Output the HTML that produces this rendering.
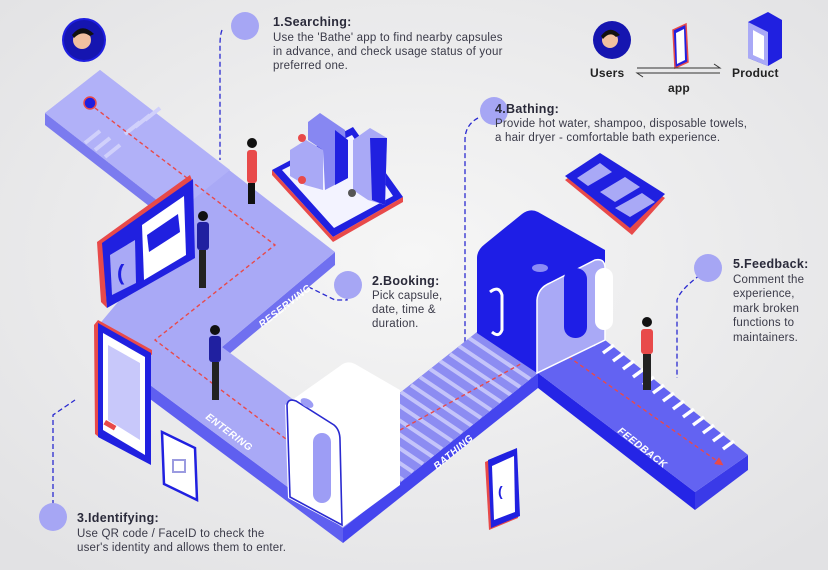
<!DOCTYPE html>
<html><head><meta charset="utf-8"><style>
html,body{margin:0;padding:0;}
body{width:828px;height:570px;overflow:hidden;background:#efefef;font-family:"Liberation Sans",sans-serif;}
svg{display:block}
text{font-family:"Liberation Sans",sans-serif;fill:#2a2a3a}
.h{font-size:12.5px;font-weight:bold;letter-spacing:.3px}
.b{font-size:11.5px;fill:#3a3a48;letter-spacing:.2px}
.lab{font-size:10px;font-weight:bold;fill:#fff;letter-spacing:.5px;font-style:italic}
</style></head><body>
<svg width="828" height="570" viewBox="0 0 828 570" xmlns="http://www.w3.org/2000/svg">
<defs>
<radialGradient id="bg" cx="50%" cy="45%" r="70%"><stop offset="0" stop-color="#f6f6f6"/><stop offset="1" stop-color="#e2e2e4"/></radialGradient>
<marker id="ar" markerWidth="6" markerHeight="6" refX="3" refY="3" orient="auto"><path d="M0,0L6,3L0,6z" fill="#e84a4a"/></marker>
<clipPath id="bc"><polygon points="344,437 477,332 538,373 343,528"/></clipPath>
</defs>
<rect width="828" height="570" fill="url(#bg)"/>

<!-- dashed leader lines -->
<g fill="none" stroke="#2a2ad0" stroke-width="1.3" stroke-dasharray="5,3">
<path d="M222,30 Q220,35 220,45 L220,160"/>
<path d="M258,262 L335,300 L347,300 L347,292"/>
<path d="M478,118 Q465,125 465,140 L465,345"/>
<path d="M700,275 Q680,290 677,300 L677,378"/>
<path d="M53,505 L53,415 L75,400"/>
</g>

<!-- side faces -->
<polygon points="45,113 185,222 185,234 45,125" fill="#7b7bef"/>
<polygon points="222,347 335,252 335,265 222,360" fill="#7070f0"/>
<polygon points="150,385 343,528 343,543 150,399" fill="#5f5ff0"/>
<polygon points="343,528 538,373 538,388 343,543" fill="#4545ee"/>
<polygon points="538,373 695,492 695,510 538,388" fill="#2525e6"/>
<polygon points="695,492 748,455 748,470 695,510" fill="#3a3ae8"/>

<!-- top face -->
<polygon points="45,113 100,70 335,252 222,347 344,437 477,332 530,300 590,328 748,455 695,492 538,373 343,528 150,385 97,327 185,222" fill="#a9a9f6"/>
<polygon points="45,113 100,70 230,170 175,214" fill="#b1b1f8"/>
<!-- bathing stripes -->
<polygon points="344,437 477,332 538,373 343,528" fill="#8c8cf2"/>
<g stroke="#c4c4fa" stroke-width="4" clip-path="url(#bc)">
<line x1="342" y1="439" x2="403" y2="480"/>
<line x1="352" y1="431" x2="413" y2="472"/><line x1="362" y1="423" x2="423" y2="464"/>
<line x1="372" y1="416" x2="433" y2="457"/><line x1="381" y1="408" x2="442" y2="449"/>
<line x1="391" y1="400" x2="452" y2="441"/><line x1="401" y1="392" x2="462" y2="433"/>
<line x1="411" y1="385" x2="472" y2="426"/><line x1="420" y1="377" x2="481" y2="418"/>
<line x1="430" y1="369" x2="491" y2="410"/><line x1="440" y1="361" x2="501" y2="402"/>
<line x1="450" y1="354" x2="511" y2="395"/><line x1="459" y1="346" x2="520" y2="387"/>
<line x1="469" y1="338" x2="530" y2="379"/>
</g>
<!-- feedback -->
<polygon points="538,373 590,328 748,455 695,492" fill="#6363f2"/>
<g stroke="#ffffff" stroke-width="3.5">
<line x1="593" y1="345" x2="604" y2="337"/><line x1="603" y1="353" x2="614" y2="345"/>
<line x1="613" y1="361" x2="624" y2="353"/><line x1="623" y1="369" x2="634" y2="361"/>
<line x1="633" y1="377" x2="644" y2="369"/><line x1="643" y1="385" x2="654" y2="377"/>
<line x1="653" y1="393" x2="664" y2="385"/><line x1="663" y1="401" x2="674" y2="393"/>
<line x1="673" y1="409" x2="684" y2="401"/><line x1="683" y1="417" x2="694" y2="409"/>
<line x1="693" y1="425" x2="704" y2="417"/><line x1="703" y1="433" x2="714" y2="425"/>
<line x1="713" y1="441" x2="724" y2="433"/><line x1="723" y1="449" x2="734" y2="441"/>
</g>

<!-- crosswalk top-left -->
<g stroke="#d0d0fb" stroke-width="4">
<line x1="145" y1="120" x2="160" y2="108"/><line x1="135" y1="127" x2="150" y2="115"/>
<line x1="125" y1="134" x2="140" y2="122"/><line x1="95" y1="150" x2="110" y2="138"/>
<line x1="105" y1="157" x2="120" y2="145"/><line x1="85" y1="143" x2="100" y2="131"/>
</g>
<circle cx="90" cy="103" r="6" fill="#1e1ee0" stroke="#e84a4a" stroke-width="1.5"/>

<!-- red dashed route -->
<g fill="none" stroke="#e84a4a" stroke-width="1.4" stroke-dasharray="4,3">
<path d="M95,108 L275,245 L155,340 L290,442"/>
<path d="M400,430 L528,360" marker-end="url(#ar)"/>
<path d="M563,353 L720,463" marker-end="url(#ar)"/>
</g>

<!-- labels -->
<text class="lab" transform="translate(262,328) rotate(-38)">RESERVING</text>
<text class="lab" transform="translate(205,418) rotate(37)">ENTERING</text>
<text class="lab" transform="translate(437,470) rotate(-40)">BATHING</text>
<text class="lab" transform="translate(617,432) rotate(38)">FEEDBACK</text>

<!-- big tablet left -->
<polygon points="97,242 190,175 192,180 103,245 107,308 101,302" fill="#e84a4a"/>
<polygon points="102,243 193,179 195,258 107,308" fill="#2020e0"/>
<polygon points="142,225 184,196 186,255 144,280" fill="#fff"/>
<polygon points="147,235 178,214 180,232 149,252" fill="#2020e0"/>
<polygon points="110,255 135,240 136,283 112,295" fill="#a9a9f6"/>
<text x="117" y="280" style="font-size:22px;fill:#1e1ee0;font-weight:bold">(</text>

<!-- tablet 2 -->
<polygon points="94,325 98,320 152,350 152,355 100,327 100,438 95,434" fill="#e84a4a"/>
<polygon points="98,323 151,353 151,465 98,437" fill="#2020e0"/>
<polygon points="103,333 145,357 145,455 103,430" fill="#fff"/>
<polygon points="108,345 140,363 140,440 108,420" fill="#c8c8fa"/>
<rect x="106" y="420" width="12" height="5" fill="#e84a4a" transform="rotate(30 106 420)"/>
<!-- small device -->
<polygon points="162,432 195,448 197,500 164,484" fill="#fff" stroke="#2020e0" stroke-width="2.5"/>
<rect x="173" y="460" width="12" height="12" fill="none" stroke="#9b9be0" stroke-width="2"/>

<!-- buildings plate -->
<polygon points="272,170 353,127 403,197 333,237" fill="#2020e0"/>
<polygon points="272,170 333,237 403,197 403,202 333,242 272,175" fill="#e84a4a"/>
<polygon points="282,170 352,135 393,196 334,228" fill="#f3f3ff"/>
<polygon points="290,150 306,140 323,150 323,190 305,185 290,176" fill="#a9a9f6"/>
<polygon points="308,122 320,113 345,130 348,178 325,190 323,150 308,140" fill="#8787f2"/>
<polygon points="335,130 348,140 348,178 335,185" fill="#2020e0"/>
<polygon points="353,140 370,128 387,138 385,205 368,200 353,190" fill="#a9a9f6"/>
<polygon points="370,138 387,138 385,205 372,200" fill="#2020e0"/>
<circle cx="302" cy="138" r="4" fill="#e84a4a"/><circle cx="302" cy="180" r="4" fill="#e84a4a"/>
<circle cx="352" cy="193" r="4" fill="#555"/>

<!-- chat tablet -->
<polygon points="565,180 600,156 665,198 632,235" fill="#e84a4a"/>
<polygon points="565,176 600,153 665,194 630,228" fill="#2020e0"/>
<polygon points="577,178 600,163 612,172 588,186" fill="#a9a9f6"/>
<polygon points="600,192 625,177 640,187 615,202" fill="#a9a9f6"/>
<polygon points="615,208 642,193 655,202 630,217" fill="#a9a9f6"/>

<!-- white capsule -->
<path d="M285,405 L340,366 Q347,360 355,364 L400,390 L400,485 L343,527 L288,498 Z" fill="#fff"/>
<path d="M287,405 Q288,398 296,401 L334,425 Q340,430 340,440 L342,525 L290,497 Z" fill="#fff" stroke="#2a2ad0" stroke-width="1.6"/>
<rect x="313" y="433" width="18" height="70" rx="9" fill="#9d9df5"/>
<ellipse cx="307" cy="403" rx="7" ry="4" fill="#9d9df5" transform="rotate(30 307 403)"/>

<!-- blue capsule -->
<path d="M477,258 Q477,250 485,244 L522,214 Q530,208 538,212 L605,250 L605,340 L537,373 L477,333 Z" fill="#1e1ee6"/>
<path d="M537,300 Q538,288 550,283 L595,260 Q605,258 605,268 L605,340 L537,373 Z" fill="#a9a9f6" stroke="#fff" stroke-width="1.5"/>
<rect x="564" y="268" width="23" height="70" rx="11" fill="#1e1ee6"/>
<rect x="595" y="268" width="18" height="62" rx="9" fill="#fff"/>
<path d="M490,292 Q499,285 502,295 L502,330 Q499,338 492,332" fill="none" stroke="#fff" stroke-width="3"/>
<ellipse cx="540" cy="268" rx="8" ry="4" fill="#8b8bf5"/>

<!-- phone -->
<polygon points="485,462 515,450 518,518 489,530" fill="#e84a4a"/>
<polygon points="488,460 517,448 520,516 491,528" fill="#2020e0"/>
<polygon points="492,466 514,456 515,512 494,520" fill="#fff"/>
<text x="498" y="496" style="font-size:14px;fill:#1e1ee0;font-weight:bold">(</text>

<!-- people -->
<g>
<circle cx="252" cy="143" r="5" fill="#111"/>
<rect x="247" y="150" width="10" height="33" rx="3" fill="#e84a4a"/>
<rect x="248" y="183" width="7" height="21" fill="#111"/>
</g>
<g>
<circle cx="203" cy="216" r="5" fill="#111"/><rect x="197" y="222" width="12" height="28" rx="3" fill="#2020a0"/>
<rect x="199" y="250" width="7" height="38" fill="#222"/>
</g>
<g>
<circle cx="215" cy="330" r="5" fill="#111"/><rect x="209" y="336" width="12" height="26" rx="3" fill="#2020a0"/>
<rect x="212" y="362" width="7" height="38" fill="#222"/>
</g>
<g>
<circle cx="647" cy="322" r="5" fill="#111"/><rect x="641" y="329" width="12" height="25" rx="3" fill="#e84a4a"/>
<rect x="643" y="354" width="8" height="36" fill="#222"/>
</g>

<!-- circles -->
<g fill="#a6a6f4">
<circle cx="245" cy="26" r="14"/><circle cx="348" cy="285" r="14"/>
<circle cx="53" cy="517" r="14"/><circle cx="494" cy="111" r="14"/><circle cx="708" cy="268" r="14"/>
</g>
<!-- avatars -->
<circle cx="84" cy="40" r="22" fill="#1e1ee0"/>
<circle cx="84" cy="40" r="20" fill="#1515b0"/><circle cx="82" cy="40" r="9" fill="#f0c0a0"/><path d="M72,35 Q82,22 94,34 L90,36 Q82,30 74,38Z" fill="#111"/>
<circle cx="612" cy="40" r="19" fill="#1515b0"/><circle cx="610" cy="40" r="8" fill="#f0c0a0"/><path d="M601,36 Q610,24 620,35 L616,37 Q610,31 603,39Z" fill="#111"/>
<!-- top right icons -->
<polygon points="673,30 686,24 688,62 675,68" fill="#2020e0" stroke="#e84a4a" stroke-width="1.5"/>
<polygon points="676,33 684,29 685,60 677,64" fill="#fff"/>
<polygon points="748,22 768,12 782,20 782,58 768,66 748,58" fill="#2020e0"/>
<polygon points="748,22 768,32 768,66 748,58" fill="#a9a9f6"/>
<polygon points="753,30 764,36 764,60 753,55" fill="#fff"/>
<!-- arrows -->
<g stroke="#333" stroke-width="1" fill="none">
<path d="M637,68 L720,68 L714,64"/><path d="M720,73 L637,73 L643,77"/>
</g>
<text class="b" x="590" y="77" style="font-weight:bold;font-size:12px;fill:#222">Users</text>
<text class="b" x="732" y="77" style="font-weight:bold;font-size:12px;fill:#222">Product</text>
<text class="b" x="668" y="92" style="font-weight:bold;font-size:12px;fill:#222">app</text>

<!-- texts -->
<text class="h" x="273" y="26">1.Searching:</text>
<text class="b" x="273" y="41">Use the 'Bathe' app to find nearby capsules</text>
<text class="b" x="273" y="55">in advance, and check usage status of your</text>
<text class="b" x="273" y="69">preferred one.</text>

<text class="h" x="495" y="113">4.Bathing:</text>
<text class="b" x="495" y="127">Provide hot water, shampoo, disposable towels,</text>
<text class="b" x="495" y="141">a hair dryer - comfortable bath experience.</text>

<text class="h" x="372" y="285">2.Booking:</text>
<text class="b" x="372" y="299">Pick capsule,</text>
<text class="b" x="372" y="313">date, time &amp;</text>
<text class="b" x="372" y="327">duration.</text>

<text class="h" x="733" y="268">5.Feedback:</text>
<text class="b" x="733" y="283">Comment the</text>
<text class="b" x="733" y="297">experience,</text>
<text class="b" x="733" y="312">mark broken</text>
<text class="b" x="733" y="326">functions to</text>
<text class="b" x="733" y="341">maintainers.</text>

<text class="h" x="77" y="522">3.Identifying:</text>
<text class="b" x="77" y="537">Use QR code / FaceID to check the</text>
<text class="b" x="77" y="551">user's identity and allows them to enter.</text>
</svg>
</body></html>
